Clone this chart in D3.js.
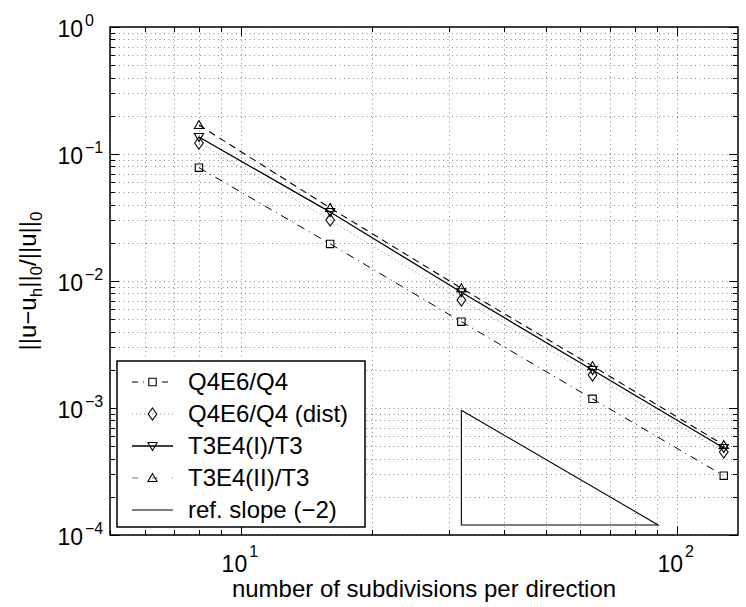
<!DOCTYPE html>
<html><head><meta charset="utf-8">
<script src="https://cdn.jsdelivr.net/npm/d3@7"></script>
<style>
body{margin:0;background:#fff;}
svg{display:block;font-family:"Liberation Sans",Arial,Helvetica,sans-serif;}
</style></head>
<body><svg id="c" width="746" height="607"></svg>
<script>
// ---- data ----
const subdivisions = [8, 16, 32, 64, 128];
const q4e6 = [0.078, 0.0196, 0.00478, 0.00118, 0.000293];
const q4e6dist = [0.122, 0.0302, 0.00709, 0.00182, 0.00045];
const t3e4I = [0.136, 0.0349, 0.00815, 0.00199, 0.000484];
const t3e4II = [0.169, 0.0376, 0.00877, 0.00214, 0.000511];
const refTriX = [32, 32, 90.5, 32];
const refTriY = [9.6e-4, 1.2e-4, 1.2e-4, 9.6e-4];
const seriesNames = ["Q4E6/Q4", "Q4E6/Q4 (dist)", "T3E4(I)/T3", "T3E4(II)/T3", "ref. slope (\u22122)"];
const xTickVals = [10, 100];
const xTickExp = ["1", "2"];
const yTickVals = [1, 0.1, 0.01, 0.001, 0.0001];
const yTickExp = ["0", "\u22121", "\u22122", "\u22123", "\u22124"];

// ---- layout ----
const L = 110, R = 738, T = 27, B = 535;
const svg = d3.select("#c");
const x = d3.scaleLog().domain([5, 138]).range([L, R]);
const y = d3.scaleLog().domain([1e-4, 1]).range([B, T]);

const xGrid = [];
for (let d = 1; d <= 100; d *= 10) for (let k = 1; k <= 9; k++) { const v = k * d; if (v >= 5 && v <= 138) xGrid.push(v); }
const yGrid = [];
for (let d = 1e-4; d < 1; d *= 10) for (let k = 1; k <= 9; k++) { yGrid.push(k * d); }
yGrid.push(1);

const grid = svg.append("g").attr("stroke", "#888").attr("stroke-width", 1).attr("stroke-dasharray", "1,3.5");
xGrid.forEach(v => grid.append("line").attr("x1", Math.round(x(v)) + 0.5).attr("x2", Math.round(x(v)) + 0.5).attr("y1", T).attr("y2", B));
yGrid.forEach(v => grid.append("line").attr("x1", L).attr("x2", R).attr("y1", Math.round(y(v)) + 0.5).attr("y2", Math.round(y(v)) + 0.5));

const tk = svg.append("g").attr("stroke", "#000").attr("stroke-width", 1);
xGrid.forEach(v => {
  const major = Math.abs(Math.log10(v) - Math.round(Math.log10(v))) < 1e-9;
  const len = major ? 9 : 5;
  const xv = Math.round(x(v)) + 0.5;
  tk.append("line").attr("x1", xv).attr("x2", xv).attr("y1", B).attr("y2", B - len);
  tk.append("line").attr("x1", xv).attr("x2", xv).attr("y1", T).attr("y2", T + len);
});
yGrid.forEach(v => {
  const major = Math.abs(Math.log10(v) - Math.round(Math.log10(v))) < 1e-9;
  const len = major ? 9 : 5;
  const yv = Math.round(y(v)) + 0.5;
  tk.append("line").attr("x1", L).attr("x2", L + len).attr("y1", yv).attr("y2", yv);
  tk.append("line").attr("x1", R).attr("x2", R - len).attr("y1", yv).attr("y2", yv);
});

svg.append("rect").attr("x", L).attr("y", T).attr("width", R - L).attr("height", B - T)
  .attr("fill", "none").attr("stroke", "#000").attr("stroke-width", 1.5);

xTickVals.forEach((v, i) => {
  const g = svg.append("g");
  g.append("text").attr("x", x(v) + 6).attr("y", B + 37).attr("text-anchor", "end")
    .attr("font-size", 23).text("10");
  g.append("text").attr("x", x(v) + 8).attr("y", B + 22).attr("font-size", 16).text(xTickExp[i]);
});
yTickVals.forEach((v, i) => {
  const g = svg.append("g");
  g.append("text").attr("x", 83).attr("y", y(v) + 10).attr("text-anchor", "end")
    .attr("font-size", 23).text("10");
  g.append("text").attr("x", 85).attr("y", y(v) - 1).attr("font-size", 16).text(yTickExp[i]);
});

svg.append("text").attr("x", (L + R) / 2).attr("y", 597).attr("text-anchor", "middle")
  .attr("font-size", 24).text("number of subdivisions per direction");
const yl = svg.append("text").attr("transform", "translate(36," + ((T + B) / 2) + ") rotate(-90)")
  .attr("text-anchor", "middle").attr("font-size", 24);
yl.append("tspan").text("||u\u2212u");
yl.append("tspan").attr("font-size", 17).attr("dy", 6).text("h");
yl.append("tspan").attr("dy", -6).text("||");
yl.append("tspan").attr("font-size", 17).attr("dy", 6).text("0");
yl.append("tspan").attr("dy", -6).text("/||u||");
yl.append("tspan").attr("font-size", 17).attr("dy", 6).text("0");

function marker(g, type, cx, cy) {
  let p;
  if (type === "square") p = `M${cx-3.7},${cy-3.7}h7.4v7.4h-7.4Z`;
  else if (type === "diamond") p = `M${cx},${cy-6}L${cx+4.3},${cy}L${cx},${cy+6}L${cx-4.3},${cy}Z`;
  else if (type === "tdown") p = `M${cx-4.6},${cy-3.5}L${cx+4.6},${cy-3.5}L${cx},${cy+4.5}Z`;
  else if (type === "tup") p = `M${cx-4.6},${cy+3.5}L${cx+4.6},${cy+3.5}L${cx},${cy-4.5}Z`;
  g.append("path").attr("d", p).attr("fill", "none").attr("stroke", "#000").attr("stroke-width", 1.1);
}

const series = [
  { vals: q4e6, dash: "8,5,1,5", mk: "square", color: "#000", w: 1 },
  { vals: q4e6dist, dash: "1,3", mk: "diamond", color: "#888", w: 1 },
  { vals: t3e4I, dash: null, mk: "tdown", color: "#000", w: 1.3 },
  { vals: t3e4II, dash: "7,5", mk: "tup", color: "#000", w: 1.1 }
];
const line = d3.line().x(d => x(d[0])).y(d => y(d[1]));
const plot = svg.append("g");
series.forEach(s => {
  const pts = subdivisions.map((v, i) => [v, s.vals[i]]);
  plot.append("path").attr("d", line(pts)).attr("fill", "none").attr("stroke", s.color)
    .attr("stroke-width", s.w).attr("stroke-dasharray", s.dash);
  pts.forEach(p => marker(plot, s.mk, x(p[0]), y(p[1])));
});
plot.append("path").attr("d", line(refTriX.map((v, i) => [v, refTriY[i]])))
  .attr("fill", "none").attr("stroke", "#000").attr("stroke-width", 1.1);

const lg = svg.append("g");
lg.append("rect").attr("x", 117).attr("y", 361).attr("width", 248).attr("height", 166)
  .attr("fill", "#fff").attr("stroke", "#000").attr("stroke-width", 1.5);
const legendStyles = [
  { dash: "6,5,1,18", mk: "square", color: "#000", w: 1 },
  { dash: "1,3", mk: "diamond", color: "#888", w: 1 },
  { dash: null, mk: "tdown", color: "#000", w: 1.3 },
  { dash: "6,14", mk: "tup", color: "#777", w: 1.1 },
  { dash: null, mk: null, color: "#000", w: 1.1 }
];
seriesNames.forEach((name, i) => {
  const yy = 382 + i * 32;
  const st = legendStyles[i];
  lg.append("line").attr("x1", 132).attr("x2", 173).attr("y1", yy).attr("y2", yy)
    .attr("stroke", st.color).attr("stroke-width", st.w).attr("stroke-dasharray", st.dash);
  if (st.mk) marker(lg, st.mk, 152.5, yy);
  lg.append("text").attr("x", 188).attr("y", yy + 8).attr("font-size", 24).text(name);
});
</script></body></html>
